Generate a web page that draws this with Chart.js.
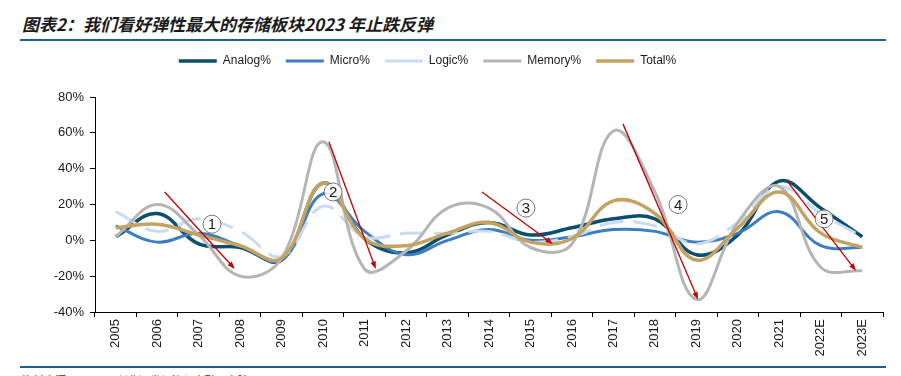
<!DOCTYPE html>
<html>
<head>
<meta charset="utf-8">
<script src="https://cdn.jsdelivr.net/npm/chart.js@4.4.0/dist/chart.umd.min.js"></script>
<style>
  html, body { margin: 0; padding: 0; background: #fff; }
  body { width: 901px; height: 376px; position: relative; overflow: hidden; }
  .title {
    position: absolute; left: 22px; top: 11px;
    font-family: "Noto Sans CJK SC", sans-serif; font-size: 17px;
    font-style: italic; font-weight: bold; color: #1a1a1a; white-space: nowrap;
  }
  .rule { position: absolute; left: 20px; width: 866px; height: 2px; background: #1f5f8b; }
  .source {
    position: absolute; left: 22px; top: 371.5px;
    font-family: "Noto Sans CJK SC", sans-serif; font-size: 11px; color: #333;
  }
  .wrap { position: absolute; left: 0; top: 40px; width: 901px; height: 325px; }
</style>
</head>
<body>
<div class="title">图表2：我们看好弹性最大的存储板块2023 年止跌反弹</div>
<div class="rule" style="top:39px"></div>
<div class="wrap"><canvas id="c"></canvas></div>
<div class="rule" style="top:366px"></div>
<div class="source">资料来源：WSTS，兴业证券经济与金融研究院</div>
<script>
// ----------------------------------------------------
const years = [ '2005', '2006', '2007', '2008', '2009', '2010', '2011', '2012', '2013', '2014',
                '2015', '2016', '2017', '2018', '2019', '2020', '2021', '2022E', '2023E' ];
const analog = [ 2, 15, -2, -4, -11, 32, 1, -7, 3, 10, 3, 7, 12, 12, -8, 3, 33, 18, 2 ];
const micro  = [ 8, -1, 4, -3, -11, 26, 5, -8, 0, 6, 0, 2, 6, 5, -1, 4, 16, -3, -4 ];
const logic  = [ 16, 5, 12, 5, -9, 19, 2, 4, 4, 5, -1, 2, 10, 8, -2, 10, 30, 15, 2 ];
const memory = [ 2, 20, 3, -20, -10, 55, -16, -6, 18, 18, -4, -2, 61, 27, -33, 10, 30, -15, -17 ];
const total  = [ 7, 9, 3, -3, -10, 32, 1, -3, 4, 10, -1, 1, 22, 15, -11, 7, 27, 4, -4 ];
const yTicks = [ -40, -20, 0, 20, 40, 60, 80 ];
// arrows: [fromIndex, fromValue, toIndex, toValue, labelIndex, labelValue, label]
const arrows = [
    [ 1.18, 27, 2.87, -16, 2.32, 9, '1' ],
    [ 5.14, 55, 6.27, -16, 5.24, 27, '2' ],
    [ 8.83, 27, 10.54, -2, 9.89, 18, '3' ],
    [ 12.23, 65, 14.04, -33, 13.56, 20, '4' ],
    [ 16.19, 33, 17.85, -17, 17.08, 12, '5' ]
];
// ----------------------------------------------------
const FONT = '"Liberation Sans", Arial, sans-serif';

// keep the legend box a fixed height so the plot starts where the original does,
// and nudge it a little left like the original
const legendFix = {
    id: 'legendFix',
    beforeInit( chart ) {
        const fit = chart.legend.fit;
        chart.legend.fit = function () {
            fit.call( this );
            this.height = 57;
        };
    },
    afterLayout( chart ) {
        chart.legend.left -= 14;
        chart.legend.right -= 14;
    }
};

const arrowPlugin = {
    id: 'arrows',
    afterDatasetsDraw( chart ) {
        const { ctx, scales: { x, y } } = chart;
        ctx.save();
        arrows.forEach( a => {
            const x1 = x.getPixelForValue( a[0] ), y1 = y.getPixelForValue( a[1] );
            const x2 = x.getPixelForValue( a[2] ), y2 = y.getPixelForValue( a[3] );
            const ang = Math.atan2( y2 - y1, x2 - x1 );
            ctx.strokeStyle = '#c00000';
            ctx.fillStyle = '#c00000';
            ctx.lineWidth = 1.3;
            ctx.beginPath();
            ctx.moveTo( x1, y1 );
            ctx.lineTo( x2 - 5 * Math.cos( ang ), y2 - 5 * Math.sin( ang ) );
            ctx.stroke();
            ctx.beginPath();
            ctx.moveTo( x2, y2 );
            ctx.lineTo( x2 - 8 * Math.cos( ang - 0.35 ), y2 - 8 * Math.sin( ang - 0.35 ) );
            ctx.lineTo( x2 - 8 * Math.cos( ang + 0.35 ), y2 - 8 * Math.sin( ang + 0.35 ) );
            ctx.closePath();
            ctx.fill();
            // circled number
            const lx = x.getPixelForValue( a[4] ), ly = y.getPixelForValue( a[5] );
            ctx.beginPath();
            ctx.arc( lx, ly, 9, 0, Math.PI * 2 );
            ctx.fillStyle = 'rgba(255,255,255,0.85)';
            ctx.fill();
            ctx.strokeStyle = '#555';
            ctx.lineWidth = 0.8;
            ctx.stroke();
            ctx.fillStyle = '#222';
            ctx.font = '15px ' + FONT;
            ctx.textAlign = 'center';
            ctx.textBaseline = 'middle';
            ctx.fillText( a[6], lx, ly + 1 );
        });
        ctx.restore();
    }
};

function series( label, data, color, width, order, dash ) {
    return {
        label: label,
        data: data,
        borderColor: color,
        backgroundColor: color,
        borderWidth: width,
        borderDash: dash || [],
        pointRadius: 0,
        tension: 0.4,
        fill: false,
        order: order
    };
}

new Chart( document.getElementById( 'c' ), {
    type: 'line',
    data: {
        labels: years,
        datasets: [
            series( 'Analog%', analog, '#0b4e6e', 3.5, 5 ),
            series( 'Micro%', micro, '#3c7ec0', 3, 4 ),
            series( 'Logic%', logic, '#c7dcf1', 3, 3, [ 24, 10 ] ),
            series( 'Memory%', memory, '#b5b5b5', 3, 2 ),
            series( 'Total%', total, '#c4a362', 3.5, 1 )
        ]
    },
    options: {
        responsive: true,
        maintainAspectRatio: false,
        animation: false,
        layout: { padding: { top: 0, right: 18, bottom: 3, left: 0 } },
        plugins: {
            tooltip: { enabled: false },
            legend: {
                position: 'top',
                labels: {
                    usePointStyle: true,
                    pointStyle: 'line',
                    pointStyleWidth: 38,
                    boxHeight: 3,
                    padding: 15,
                    color: '#1a1a1a',
                    font: { family: FONT, size: 12 },
                    sort: ( a, b ) => a.datasetIndex - b.datasetIndex
                }
            }
        },
        scales: {
            x: {
                offset: true,
                grid: { display: true, offset: true, drawOnChartArea: false, drawTicks: true, tickLength: 5, color: '#000' },
                border: { display: true, color: '#000', width: 1 },
                ticks: { minRotation: 90, maxRotation: 90, autoSkip: false, color: '#1a1a1a', font: { family: FONT, size: 13 }, padding: 2 },
                afterFit: s => { s.height = 50; }
            },
            y: {
                min: -40,
                max: 80,
                afterBuildTicks: s => { s.ticks = yTicks.map( v => ( { value: v } ) ); },
                grid: { display: true, drawOnChartArea: false, drawTicks: true, tickLength: 5, color: '#000' },
                border: { display: true, color: '#000', width: 1 },
                ticks: { color: '#1a1a1a', font: { family: FONT, size: 13 }, padding: 6, callback: v => v + '%' },
                afterFit: s => { s.width = 95; }
            }
        }
    },
    plugins: [ legendFix, arrowPlugin ]
});
</script>
</body>
</html>
